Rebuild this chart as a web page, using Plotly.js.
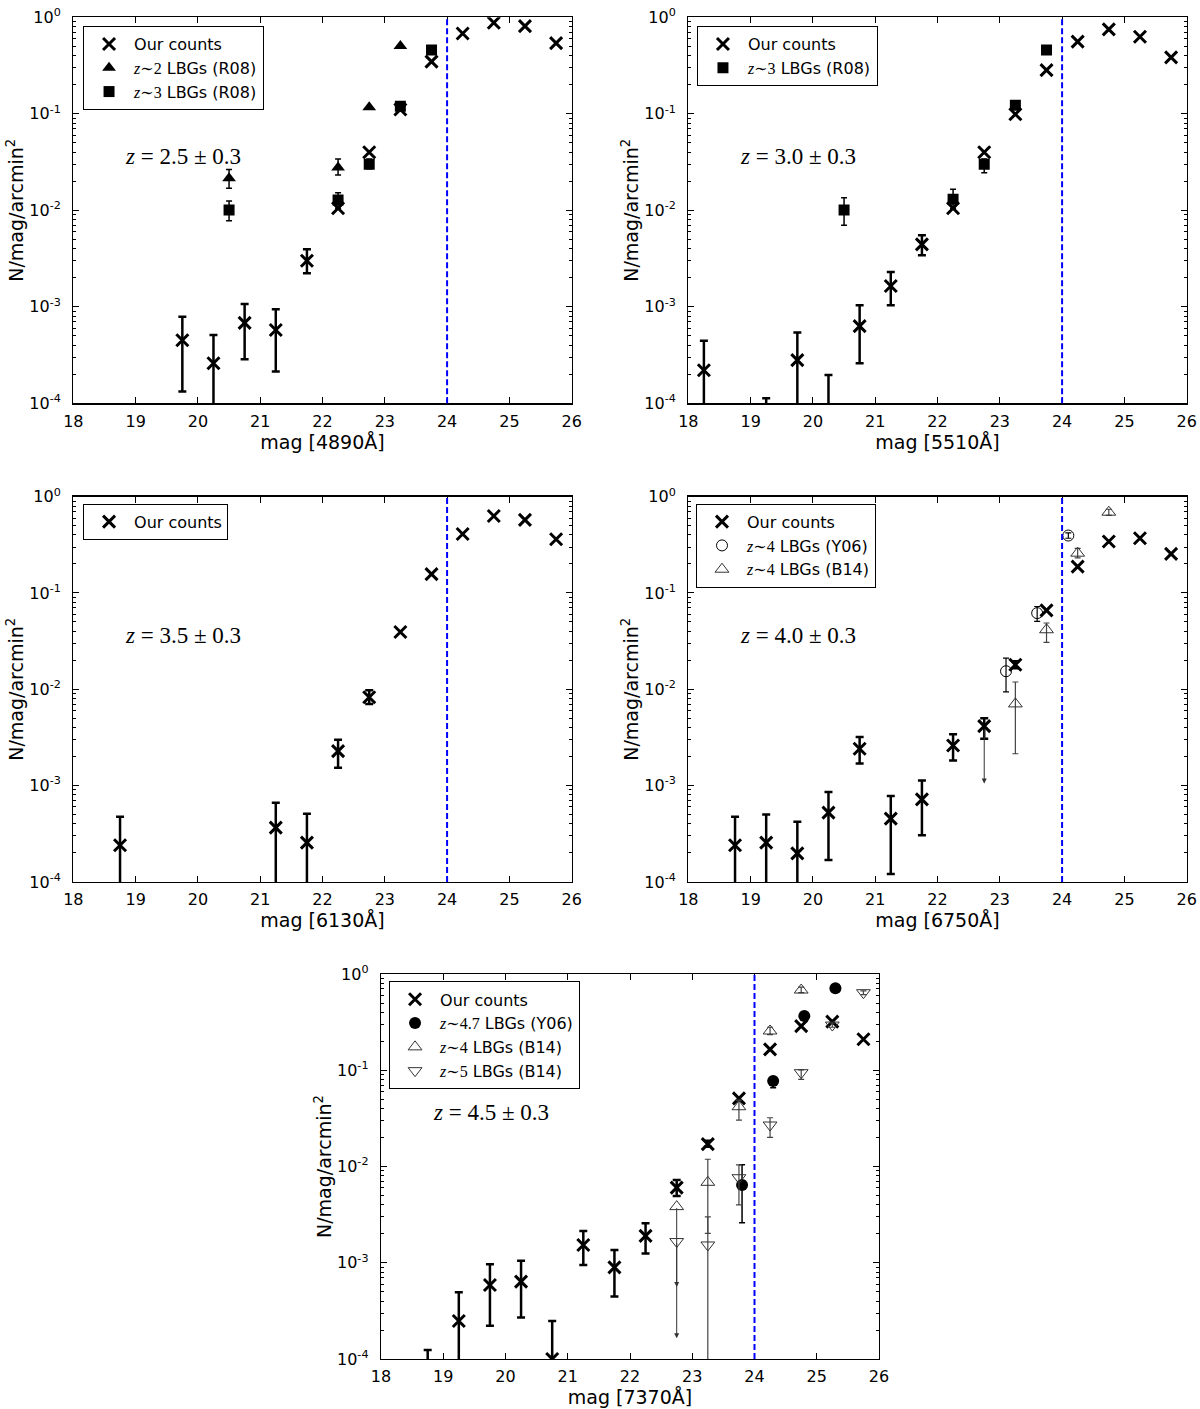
<!DOCTYPE html>
<html>
<head>
<meta charset="utf-8">
<script src="https://cdn.plot.ly/plotly-3.0.1.min.js"></script>
<style>
  body { margin: 0; background: #fff; }
  #counts { width: 1200px; height: 1409px; }
</style>
</head>
<body>
<div id="counts"></div>
<script>
// ---- data (N / mag / arcmin^2) ----
// hi / lo = ends of the error bar, null = bar hidden under the marker
var filters = ['4890', '5510', '6130', '6750', '7370'];
var zLabels = ['2.5', '3.0', '3.5', '4.0', '4.5'];
var yTickVals = [1e-4, 1e-3, 1e-2, 1e-1, 1];
var yTickText = ['10<sup>-4</sup>', '10<sup>-3</sup>', '10<sup>-2</sup>', '10<sup>-1</sup>', '10<sup>0</sup>'];

// panel 1, z = 2.5
var p1_mag = [19.75, 20.25, 20.75, 21.25, 21.75, 22.25, 22.75, 23.25, 23.75, 24.25, 24.75, 25.25, 25.75];
var p1_n   = [4.5e-4, 2.6e-4, 6.8e-4, 5.75e-4, 3.0e-3, 0.0105, 0.040, 0.111, 0.347, 0.68, 0.88, 0.81, 0.54];
var p1_hi  = [7.9e-4, 5.1e-4, 1.07e-3, 9.4e-4, 3.95e-3, null, null, null, null, null, null, null, null];
var p1_lo  = [1.32e-4, 1e-6, 2.86e-4, 2.13e-4, 2.22e-3, null, null, null, null, null, null, null, null];
var p1_r08z2_mag = [20.5, 22.25, 22.75, 23.25];
var p1_r08z2_n   = [0.0215, 0.0277, 0.117, 0.505];
var p1_r08z2_hi  = [0.0265, 0.034, null, null];
var p1_r08z2_lo  = [0.0169, 0.0232, null, null];
var p1_r08z3_mag = [20.5, 22.25, 22.75, 23.25, 23.75];
var p1_r08z3_n   = [0.0101, 0.0128, 0.030, 0.12, 0.458];
var p1_r08z3_hi  = [0.0125, 0.0152, 0.034, null, null];
var p1_r08z3_lo  = [0.0078, 0.0105, 0.027, null, null];

// panel 2, z = 3.0
var p2_mag = [18.25, 19.25, 19.75, 20.25, 20.75, 21.25, 21.75, 22.25, 22.75, 23.25, 23.75, 24.25, 24.75, 25.25, 25.75];
var p2_n   = [2.2e-4, 4e-5, 2.8e-4, 6e-5, 6.3e-4, 1.64e-3, 4.43e-3, 0.0105, 0.040, 0.099, 0.284, 0.56, 0.75, 0.63, 0.385];
var p2_hi  = [4.45e-4, 1.13e-4, 5.4e-4, 1.96e-4, 1.04e-3, 2.29e-3, 5.5e-3, null, null, null, null, null, null, null, null];
var p2_lo  = [1e-6, 1e-6, 1e-6, 1e-6, 2.6e-4, 1.04e-3, 3.42e-3, null, null, null, null, null, null, null, null];
var p2_r08z3_mag = [20.5, 22.25, 22.75, 23.25, 23.75];
var p2_r08z3_n   = [0.0101, 0.013, 0.030, 0.123, 0.458];
var p2_r08z3_hi  = [0.0135, 0.0165, 0.034, null, null];
var p2_r08z3_lo  = [0.0070, 0.0105, 0.0245, null, null];

// panel 3, z = 3.5
var p3_mag = [18.75, 21.25, 21.75, 22.25, 22.75, 23.25, 23.75, 24.25, 24.75, 25.25, 25.75];
var p3_n   = [2.4e-4, 3.66e-4, 2.56e-4, 2.28e-3, 8.26e-3, 0.0393, 0.157, 0.41, 0.63, 0.574, 0.361];
var p3_hi  = [4.76e-4, 6.65e-4, 5.1e-4, 3.0e-3, 9.77e-3, null, null, null, null, null, null];
var p3_lo  = [1e-6, 1e-6, 1e-6, 1.53e-3, 7.05e-3, null, null, null, null, null, null];

// panel 4, z = 4.0
var p4_mag = [18.75, 19.25, 19.75, 20.25, 20.75, 21.25, 21.75, 22.25, 22.75, 23.25, 23.75, 24.25, 24.75, 25.25, 25.75];
var p4_n   = [2.4e-4, 2.56e-4, 1.98e-4, 5.24e-4, 2.41e-3, 4.54e-4, 7.2e-4, 2.61e-3, 4.14e-3, 0.018, 0.066, 0.188, 0.342, 0.37, 0.255];
var p4_hi  = [4.76e-4, 5.0e-4, 4.2e-4, 8.57e-4, 3.2e-3, 7.8e-4, 1.13e-3, 3.42e-3, 5.0e-3, 0.0195, null, null, null, null, null];
var p4_lo  = [1e-6, 1e-6, 1e-6, 1.69e-4, 1.7e-3, 1.21e-4, 3.05e-4, 1.82e-3, 3.06e-3, 0.0165, null, null, null, null, null];
var p4_y06_mag = [23.1, 23.6, 24.1];
var p4_y06_n   = [0.0154, 0.0618, 0.395];
var p4_y06_hi  = [0.0211, 0.0724, 0.42];
var p4_y06_lo  = [9.4e-3, 0.0507, 0.37];
var p4_b14z4_mag = [23.25, 23.75, 24.25, 24.75];
var p4_b14z4_n   = [7.05e-3, 0.0415, 0.259, 0.69];
var p4_b14z4_hi  = [0.0119, 0.0488, 0.29, 0.74];
var p4_b14z4_lo  = [2.14e-3, 0.0307, 0.232, 0.64];
var p4_lim_mag = [22.75];
var p4_lim_from = [4.0e-3];
var p4_lim_to   = [1.05e-3];

// panel 5, z = 4.5
var p5_mag = [18.75, 19.25, 19.75, 20.25, 20.75, 21.25, 21.75, 22.25, 22.75, 23.25, 23.75, 24.25, 24.75, 25.25, 25.75];
var p5_n   = [4e-5, 2.48e-4, 5.87e-4, 6.36e-4, 1.0e-4, 1.53e-3, 8.96e-4, 1.9e-3, 6.03e-3, 0.0171, 0.051, 0.165, 0.288, 0.32, 0.21];
var p5_hi  = [1.24e-4, 4.93e-4, 9.64e-4, 1.05e-3, 2.48e-4, 2.14e-3, 1.36e-3, 2.57e-3, 7.24e-3, 0.0185, null, null, null, null, null];
var p5_lo  = [1e-6, 1e-6, 2.22e-4, 2.69e-4, 1e-6, 9.5e-4, 4.45e-4, 1.25e-3, 4.94e-3, 0.016, null, null, null, null, null];
var p5_y06_mag = [23.8, 24.3, 24.8, 25.3];
var p5_y06_n   = [6.43e-3, 0.0773, 0.366, 0.71];
var p5_y06_hi  = [0.0104, 0.0855, null, null];
var p5_y06_lo  = [2.6e-3, 0.066, null, null];
var p5_b14z4_mag = [22.75, 23.25, 23.75, 24.25, 24.75];
var p5_b14z4_n   = [3.83e-3, 6.85e-3, 0.0418, 0.256, 0.682];
var p5_b14z4_hi  = [null, 0.0119, 0.049, 0.28, 0.73];
var p5_b14z4_lo  = [null, 2.02e-3, 0.0304, 0.235, 0.64];
var p5_b14z5_mag = [22.75, 23.25, 23.75, 24.25, 24.75, 25.25, 25.75];
var p5_b14z5_n   = [1.66e-3, 1.53e-3, 7.65e-3, 0.027, 0.0944, 0.295, 0.64];
var p5_b14z5_hi  = [null, 3.0e-3, 0.0104, 0.0321, 0.101, 0.31, 0.67];
var p5_b14z5_lo  = [null, 1e-6, 4.0e-3, 0.0201, 0.0805, 0.28, 0.61];
var p5_lim_mag  = [22.75, 22.75];
var p5_lim_from = [3.83e-3, 1.66e-3];
var p5_lim_to   = [1.64e-4, 5.6e-4];

// ---- panel placement (paper fractions) ----
var xDomains = [[0.0611, 0.4764], [0.5736, 0.9889], [0.0611, 0.4764], [0.5736, 0.9889], [0.3175, 0.7325]];
var yDomains = [[0.7138, 0.9877], [0.7138, 0.9877], [0.3741, 0.6475], [0.3741, 0.6475], [0.0355, 0.3087]];
var legendPos = [[0.0692, 0.9815], [0.5808, 0.9815], [0.0692, 0.6425], [0.58, 0.6425], [0.3242, 0.3035]];

var SERIF = 'Liberation Serif, DejaVu Serif, serif';
var SANS = 'DejaVu Sans, Verdana, sans-serif';

function sid(k) { return k === 1 ? '' : String(k); }

function zText(s) {
    return '<span style="font-family:' + SERIF + '"><i>z</i>∼' + s + '</span> ';
}

function errBars(n, hi, lo, color, thick, cap) {
    return {
        type: 'data', symmetric: false, visible: true,
        array: n.map(function (v, i) { return hi[i] === null ? NaN : hi[i] - v; }),
        arrayminus: n.map(function (v, i) { return lo[i] === null ? NaN : v - lo[i]; }),
        color: color, thickness: thick, width: cap
    };
}

function series(k, name, mag, n, hi, lo, marker, ebColor, ebThick, ebCap) {
    return {
        type: 'scatter', mode: 'markers', name: name,
        x: mag, y: n,
        xaxis: 'x' + sid(k), yaxis: 'y' + sid(k),
        legend: 'legend' + sid(k),
        marker: marker,
        error_y: errBars(n, hi, lo, ebColor, ebThick, ebCap),
        hoverinfo: 'x+y'
    };
}

var mkOurs = { symbol: 'x-thin', size: 12, color: 'black', line: { width: 3, color: 'black' } };
var mkTri = { symbol: 'triangle-up', size: 12, color: 'black', line: { width: 0 } };
var mkSq = { symbol: 'square', size: 11, color: 'black', line: { width: 0 } };
var mkOpenCirc = { symbol: 'circle-open', size: 11, color: 'black', line: { width: 1, color: 'black' } };
var mkFullCirc = { symbol: 'circle', size: 12, color: 'black', line: { width: 0 } };
var mkOpenUp = { symbol: 'triangle-up-open', size: 12, color: '#333', line: { width: 1, color: '#333' } };
var mkOpenDown = { symbol: 'triangle-down-open', size: 12, color: '#333', line: { width: 1, color: '#333' } };

var data = [
    series(1, 'Our counts', p1_mag, p1_n, p1_hi, p1_lo, mkOurs, 'black', 2.5, 4),
    series(1, zText('2') + 'LBGs (R08)', p1_r08z2_mag, p1_r08z2_n, p1_r08z2_hi, p1_r08z2_lo, mkTri, 'black', 1.5, 3),
    series(1, zText('3') + 'LBGs (R08)', p1_r08z3_mag, p1_r08z3_n, p1_r08z3_hi, p1_r08z3_lo, mkSq, 'black', 1.5, 3),

    series(2, 'Our counts', p2_mag, p2_n, p2_hi, p2_lo, mkOurs, 'black', 2.5, 4),
    series(2, zText('3') + 'LBGs (R08)', p2_r08z3_mag, p2_r08z3_n, p2_r08z3_hi, p2_r08z3_lo, mkSq, 'black', 1.5, 3),

    series(3, 'Our counts', p3_mag, p3_n, p3_hi, p3_lo, mkOurs, 'black', 2.5, 4),

    series(4, 'Our counts', p4_mag, p4_n, p4_hi, p4_lo, mkOurs, 'black', 2.5, 4),
    series(4, zText('4') + 'LBGs (Y06)', p4_y06_mag, p4_y06_n, p4_y06_hi, p4_y06_lo, mkOpenCirc, 'black', 1.2, 3),
    series(4, zText('4') + 'LBGs (B14)', p4_b14z4_mag, p4_b14z4_n, p4_b14z4_hi, p4_b14z4_lo, mkOpenUp, '#444', 1.2, 3),

    series(5, 'Our counts', p5_mag, p5_n, p5_hi, p5_lo, mkOurs, 'black', 2.5, 4),
    series(5, zText('4.7') + 'LBGs (Y06)', p5_y06_mag, p5_y06_n, p5_y06_hi, p5_y06_lo, mkFullCirc, 'black', 1.5, 3),
    series(5, zText('4') + 'LBGs (B14)', p5_b14z4_mag, p5_b14z4_n, p5_b14z4_hi, p5_b14z4_lo, mkOpenUp, '#444', 1.2, 3),
    series(5, zText('5') + 'LBGs (B14)', p5_b14z5_mag, p5_b14z5_n, p5_b14z5_hi, p5_b14z5_lo, mkOpenDown, '#444', 1.2, 3)
];

var layout = {
    width: 1200, height: 1409,
    margin: { l: 0, r: 0, t: 0, b: 0 },
    paper_bgcolor: 'white', plot_bgcolor: 'white',
    font: { family: SANS, size: 16, color: 'black' },
    showlegend: true,
    shapes: [],
    annotations: []
};

var arrows = [[], [], [], p4_lim_mag, p5_lim_mag];
var arrowFrom = [[], [], [], p4_lim_from, p5_lim_from];
var arrowTo = [[], [], [], p4_lim_to, p5_lim_to];

for (var k = 1; k <= 5; k++) {
    var s = sid(k);
    layout['xaxis' + s] = {
        domain: xDomains[k - 1], range: [18, 26], anchor: 'y' + s,
        dtick: 1, tick0: 18,
        ticks: 'inside', ticklen: 6, tickwidth: 1, tickcolor: 'black',
        showline: true, linecolor: 'black', linewidth: 1.3, mirror: 'ticks',
        showgrid: false, zeroline: false,
        ticklabelstandoff: 3,
        tickfont: { size: 16 },
        title: { text: 'mag [' + filters[k - 1] + 'Å]', font: { size: 19 }, standoff: 2 }
    };
    layout['yaxis' + s] = {
        domain: yDomains[k - 1], type: 'log', range: [-4, 0], anchor: 'x' + s,
        tickmode: 'array', tickvals: yTickVals, ticktext: yTickText,
        ticks: 'inside', ticklen: 6, tickwidth: 1, tickcolor: 'black',
        minor: { ticks: 'inside', ticklen: 3, tickcolor: 'black', dtick: 'D1', showgrid: false },
        showline: true, linecolor: 'black', linewidth: 1.3, mirror: 'ticks',
        showgrid: false, zeroline: false,
        ticklabelstandoff: 8,
        tickfont: { size: 16 },
        title: { text: 'N/mag/arcmin<sup>2</sup>', font: { size: 19 } }
    };
    layout['legend' + s] = {
        x: legendPos[k - 1][0], y: legendPos[k - 1][1], xanchor: 'left', yanchor: 'top',
        bgcolor: 'white', bordercolor: 'black', borderwidth: 1,
        font: { family: SANS, size: 16, color: 'black' },
        traceorder: 'normal', tracegroupgap: 0, itemwidth: 40, itemclick: false
    };
    // completeness limit
    layout.shapes.push({
        type: 'line', xref: 'x' + s, yref: 'y' + s + ' domain',
        x0: 24, x1: 24, y0: 0, y1: 1,
        line: { color: '#0000ff', width: 2, dash: '6px,3px' }
    });
    // redshift label
    layout.annotations.push({
        xref: 'x' + s, yref: 'y' + s, x: 18.8, y: -1.44,
        xanchor: 'left', yanchor: 'middle', showarrow: false,
        text: '<i>z</i> = ' + zLabels[k - 1] + ' ± 0.3',
        font: { family: SERIF, size: 23, color: 'black' }
    });
    // upper limits
    for (var j = 0; j < arrows[k - 1].length; j++) {
        layout.annotations.push({
            xref: 'x' + s, yref: 'y' + s, axref: 'x' + s, ayref: 'y' + s,
            x: arrows[k - 1][j], y: Math.log10(arrowTo[k - 1][j]),
            ax: arrows[k - 1][j], ay: Math.log10(arrowFrom[k - 1][j]),
            text: '', showarrow: true, arrowhead: 2, arrowsize: 1, arrowwidth: 1, arrowcolor: '#333'
        });
    }
}

Plotly.newPlot('counts', data, layout, { displayModeBar: false, staticPlot: true });
</script>
</body>
</html>
